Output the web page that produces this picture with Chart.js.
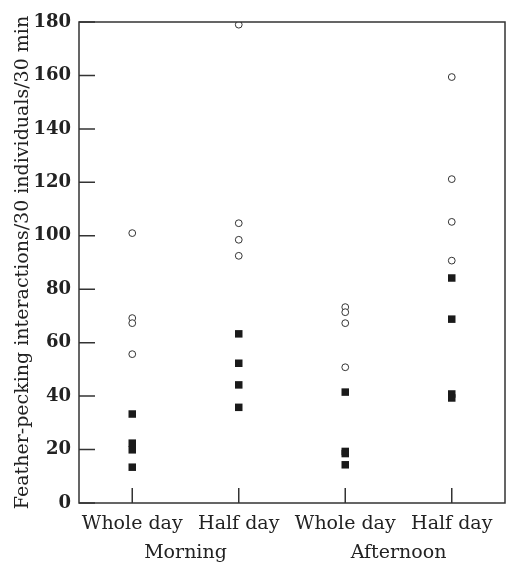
<!DOCTYPE html>
<html>
<head>
<meta charset="utf-8">
<script src="https://cdn.jsdelivr.net/npm/chart.js@4"></script>
<style>
  html, body { margin: 0; padding: 0; background: #fff; }
  #wrap { width: 512px; height: 563px; }
</style>
</head>
<body>
<div id="wrap"><canvas id="myChart" width="512" height="563"></canvas></div>
<script>
// Kategori sumbu x dan kelompok waktu
const categories = ['Whole day', 'Half day', 'Whole day', 'Half day'];
const groups = ['Morning', 'Afternoon'];
const yTicks = [0, 20, 40, 60, 80, 100, 120, 140, 160, 180];

// Nilai tiap kategori (lingkaran terbuka dan kotak hitam)
const openValues = [
  [101, 69.2, 67.3, 55.7],
  [179, 104.7, 98.5, 92.5],
  [73.3, 71.4, 67.3, 50.8],
  [159.4, 121.2, 105.2, 90.7]
];
const filledValues = [
  [33.3, 22.4, 19.9, 13.4],
  [63.3, 52.3, 44.2, 35.8],
  [41.5, 19.3, 18.5, 14.3],
  [84.2, 68.8, 40.8, 39.3]
];

const toPoints = (vals) => vals.flatMap((list, i) => list.map(v => ({ x: i, y: v })));

const serif = 'DejaVu Serif';
const ink = '#222';

// Plugin: bingkai, tick ke dalam, dan label kelompok
const framePlugin = {
  id: 'frame',
  afterDraw(chart) {
    const { ctx, chartArea: a, scales } = chart;
    ctx.save();
    ctx.strokeStyle = '#333';
    ctx.lineWidth = 1.5;
    ctx.strokeRect(a.left, a.top, a.right - a.left, a.bottom - a.top);
    ctx.beginPath();
    yTicks.forEach(t => {
      const py = scales.y.getPixelForValue(t);
      ctx.moveTo(a.left, py);
      ctx.lineTo(a.left + 16, py);
    });
    categories.forEach((c, i) => {
      const px = scales.x.getPixelForValue(i);
      ctx.moveTo(px, a.bottom);
      ctx.lineTo(px, a.bottom - 15);
    });
    ctx.stroke();

    ctx.fillStyle = ink;
    ctx.font = '19px "' + serif + '"';
    ctx.textAlign = 'center';
    ctx.textBaseline = 'middle';
    groups.forEach((g, gi) => {
      const p0 = scales.x.getPixelForValue(gi * 2);
      const p1 = scales.x.getPixelForValue(gi * 2 + 1);
      ctx.fillText(g, (p0 + p1) / 2, 553);
    });
    ctx.restore();
  }
};

const ctx = document.getElementById('myChart').getContext('2d');

const myChart = new Chart(ctx, {
  type: 'scatter',
  data: {
    datasets: [{
      label: 'Open',
      data: toPoints(openValues),
      pointStyle: 'circle',
      pointRadius: 3.4,
      pointBorderWidth: 1,
      pointBorderColor: '#333',
      pointBackgroundColor: '#fff'
    }, {
      label: 'Filled',
      data: toPoints(filledValues),
      pointStyle: 'rect',
      pointRadius: 5.3,
      pointBorderWidth: 0,
      pointBackgroundColor: '#1a1a1a'
    }]
  },
  options: {
    responsive: false,
    animation: false,
    layout: { padding: { top: 22, right: 7, left: 0, bottom: 0 } },
    plugins: {
      legend: { display: false },
      tooltip: { enabled: false }
    },
    scales: {
      x: {
        type: 'linear',
        min: -0.5,
        max: categories.length - 0.5,
        grid: { display: false },
        border: { display: false },
        afterBuildTicks(scale) { scale.ticks = categories.map((c, i) => ({ value: i })); },
        ticks: {
          color: ink,
          padding: 2,
          maxRotation: 0,
          autoSkip: false,
          font: { family: serif, size: 19 },
          callback: (v) => categories[v]
        },
        afterFit(scale) { scale.height = 60; }
      },
      y: {
        min: 0,
        max: 180,
        grid: { display: false },
        border: { display: false },
        afterBuildTicks(scale) { scale.ticks = yTicks.map(v => ({ value: v })); },
        ticks: {
          color: ink,
          padding: 0,
          font: { family: serif, size: 18, weight: 'bold' }
        },
        title: {
          display: true,
          text: 'Feather-pecking interactions/30 individuals/30 min',
          color: ink,
          padding: { top: 12, bottom: 0 },
          font: { family: serif, size: 19 }
        },
        afterFit(scale) { scale.width = 79; }
      }
    }
  },
  plugins: [framePlugin]
});
</script>
</body>
</html>
